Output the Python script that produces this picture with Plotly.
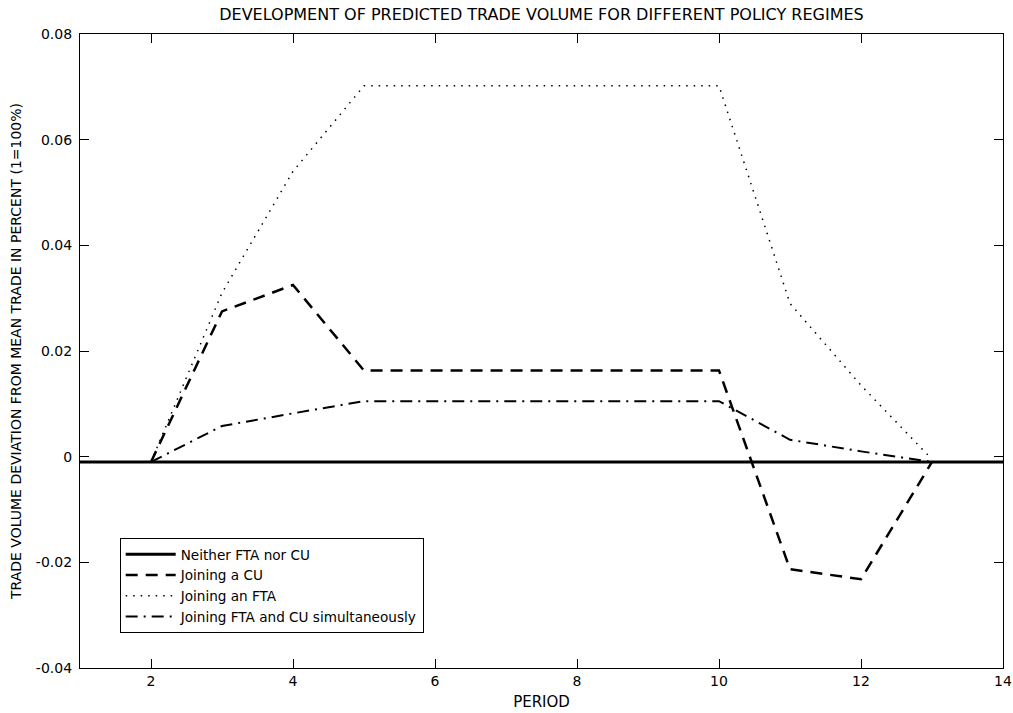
import plotly.graph_objects as go

periods = [2, 3, 4, 5, 6, 7, 8, 9, 10, 11, 12, 13]
neither_x = [1, 14]
neither_y = [-0.001, -0.001]
cu = [-0.001, 0.0275, 0.0325, 0.0163, 0.0163, 0.0163, 0.0163, 0.0163, 0.0163, -0.0213, -0.0232, -0.001]
fta = [-0.001, 0.031, 0.054, 0.0702, 0.0702, 0.0702, 0.0702, 0.0702, 0.0702, 0.029, 0.0135, -0.0005]
both = [-0.001, 0.0058, 0.0082, 0.0105, 0.0105, 0.0105, 0.0105, 0.0105, 0.0105, 0.0032, 0.001, -0.001]

yticks = [-0.04, -0.02, 0, 0.02, 0.04, 0.06, 0.08]
yticklabels = ["-0.04", "-0.02", "0", "0.02", "0.04", "0.06", "0.08"]
xticks = [2, 4, 6, 8, 10, 12, 14]

fig = go.Figure()
fig.add_trace(go.Scatter(x=neither_x, y=neither_y, mode="lines", name="Neither FTA nor CU",
                         line=dict(color="black", width=3)))
fig.add_trace(go.Scatter(x=periods, y=cu, mode="lines", name="Joining a CU",
                         line=dict(color="black", width=2.5, dash="12px,8px")))
fig.add_trace(go.Scatter(x=periods, y=fta, mode="lines", name="Joining an FTA",
                         line=dict(color="black", width=1.5, dash="1.5px,6px")))
fig.add_trace(go.Scatter(x=periods, y=both, mode="lines", name="Joining FTA and CU simultaneously",
                         line=dict(color="black", width=2, dash="12px,6px,2px,6px")))

fam = "DejaVu Sans, Arial, sans-serif"
fig.update_layout(
    width=1013, height=713,
    margin=dict(l=80, r=10, t=34, b=45, autoexpand=False),
    paper_bgcolor="white", plot_bgcolor="white",
    font=dict(family=fam, size=14, color="black"),
    title=dict(text="DEVELOPMENT OF PREDICTED TRADE VOLUME FOR DIFFERENT POLICY REGIMES",
               x=(80 + 1003) / 2 / 1013, xanchor="center", y=1 - 14 / 713, yanchor="middle",
               font=dict(size=16)),
    showlegend=True,
    legend=dict(x=0.043, y=0.205, xanchor="left", yanchor="top",
                bgcolor="white", bordercolor="black", borderwidth=1,
                font=dict(size=13.6), tracegroupgap=0, itemwidth=50),
    xaxis=dict(range=[1, 14], tickvals=xticks, ticks="inside", ticklen=9, tickwidth=1,
               tickcolor="black", showline=True, linecolor="black", linewidth=1.2, mirror="ticks",
               showgrid=False, zeroline=False, automargin=False,
               tickfont=dict(size=14),
               title=dict(text="PERIOD", standoff=8, font=dict(size=15))),
    yaxis=dict(range=[-0.04, 0.08], tickvals=yticks, ticktext=yticklabels, ticks="inside",
               ticklen=9, tickwidth=1, tickcolor="black", showline=True, linecolor="black",
               linewidth=1.2, mirror="ticks", showgrid=False, zeroline=False, automargin=False,
               tickfont=dict(size=14), ticklabelstandoff=4,
               title=dict(text="TRADE VOLUME DEVIATION FROM MEAN TRADE IN PERCENT (1=100%)",
                          standoff=10, font=dict(size=14))),
)

fig.write_html("out.html", config={"displayModeBar": False},
               post_script="document.body.style.margin='0px';")
